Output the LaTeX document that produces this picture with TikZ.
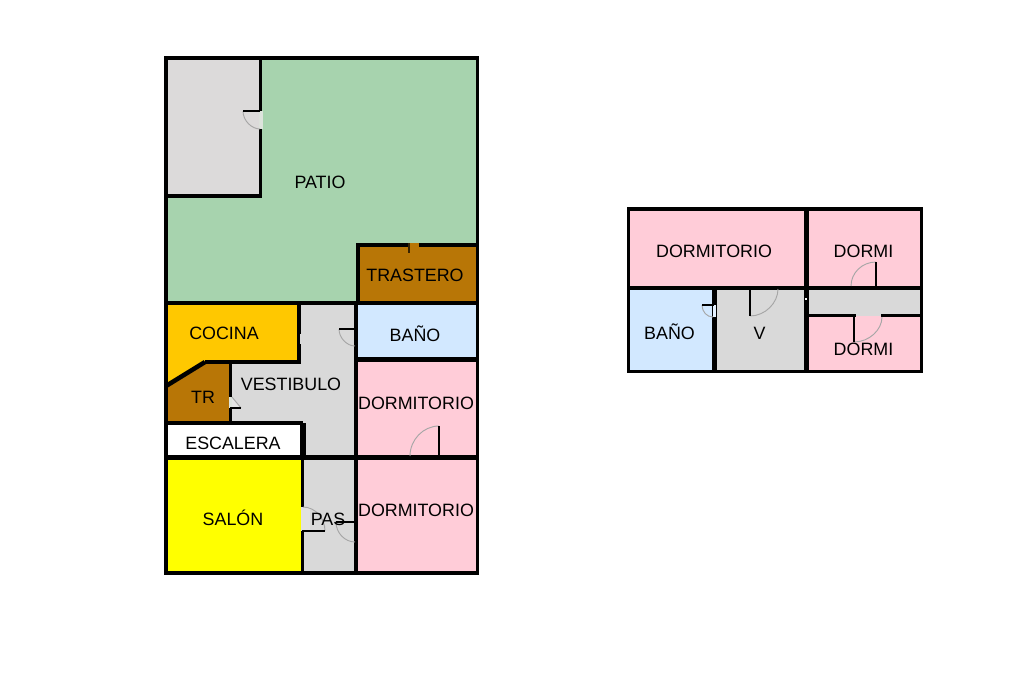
\documentclass[tikz,border=0pt]{standalone}
\usepackage{fontspec}
\setmainfont{Liberation Sans}
\definecolor{patio}{HTML}{A7D3AE}
\definecolor{greyroom}{HTML}{DCDADA}
\definecolor{hall}{HTML}{D9D9D9}
\definecolor{store}{HTML}{B87606}
\definecolor{kitchen}{HTML}{FFC800}
\definecolor{bath}{HTML}{D2E8FF}
\definecolor{bed}{HTML}{FFCCD8}
\definecolor{lounge}{HTML}{FFFF00}
\definecolor{gapgrey}{HTML}{DDE3DC}
\tikzset{
  wall/.style={draw=black,line width=2.5pt,line cap=rect,line join=miter},
  thinwall/.style={draw=black,line width=2.5pt,line cap=rect},
  leaf/.style={draw=black,line width=1pt},
  heavyleaf/.style={draw=black,line width=1.6pt},
  swing/.style={draw=black!35,line width=0.7pt},
  lbl/.style={anchor=base,inner sep=0pt,font=\fontsize{13.4pt}{15pt}\selectfont,text=black}
}
\begin{document}
\begin{tikzpicture}[x=0.75pt,y=-0.75pt]
\useasboundingbox (0,0) rectangle (1024,682);
\fill[white] (0,0) rectangle (1024,682);
% ---- ground floor fills
\fill[patio] (166,58) rectangle (477,303);
\fill[greyroom] (166,58) rectangle (260,196);
\fill[store] (358,245) rectangle (477,303);
\fill[kitchen] (166,303) rectangle (298,362);
\fill[kitchen] (166,362) -- (205,362) -- (166,387) -- cycle;
\fill[hall] (298,303) rectangle (356,458);
\fill[hall] (230,362) rectangle (303,423);
\fill[store] (166,387) -- (205,362) -- (230,362) -- (230,423) -- (166,423) -- cycle;
\fill[white] (166,423) rectangle (303,458);
\fill[bath] (356,303) rectangle (477,360);
\fill[bed] (356,360) rectangle (477,458);
\fill[bed] (356,458) rectangle (477,573);
\fill[lounge] (166,458) rectangle (302,573);
\fill[hall] (302,458) rectangle (356,573);
% ---- ground floor walls
\draw[wall] (166,58) rectangle (477.5,573);
\draw[thinwall] (260.5,58) -- (260.5,196) -- (166,196);
\draw[thinwall] (358,303) -- (358,245) -- (477,245);
\draw[line width=3.6pt] (166,303) -- (477,303);
\draw[line width=3pt] (298.5,303) -- (298.5,362) -- (205,362);
\draw[line width=3.4pt] (166,386) -- (205,362);
\draw[thinwall] (230.5,362) -- (230.5,423);
\draw[line width=3pt] (166,423) -- (303,423);
\draw[line width=4pt] (303,423) -- (303,458);
\draw[line width=3.2pt] (356,303) -- (356,573);
\draw[line width=3.4pt] (356,359.5) -- (477,359.5);
\draw[line width=3.4pt] (166,457.5) -- (477,457.5);
\draw[line width=2.6pt] (302.5,458) -- (302.5,573);
% ---- ground floor doors
\fill[gapgrey] (258.5,111) rectangle (263,129);
\fill[greyroom] (243,111) .. controls (243,121) and (252,129) .. (259,129) -- (259,111) -- cycle;
\draw[swing] (243,111) .. controls (243,121) and (252,129) .. (260,129);
\draw[leaf] (243,111) -- (260,111);
\fill[store] (409,243) rectangle (419,247);
\draw[draw=black!70!store,line width=0.8pt] (409,243) -- (409,253);
\fill[hall] (299.5,334) rectangle (301.5,344);
\draw[swing] (339,329) .. controls (339,338) and (347,346) .. (355,346);
\draw[leaf] (339,329) -- (355,329);
\fill[gapgrey] (229,397) rectangle (232.5,408);
\fill[hall!70!white] (232,397) -- (241,408) -- (232,408) -- cycle;
\draw[swing] (232,397) -- (241,408);
\draw[leaf] (230,408) -- (241,408);
\draw[swing] (439,426) .. controls (423,426) and (410,440) .. (410,456);
\draw[heavyleaf] (439,426) -- (439,456);
\fill[hall!80!white] (300.5,507) rectangle (310,531);
\draw[swing] (303,507) .. controls (315,507) and (325,518) .. (325,531);
\draw[leaf] (302,531) -- (325,531);
\draw[swing] (336,522) .. controls (336,533) and (345,542) .. (355,542);
\draw[leaf] (336,522) -- (355,522);
% ---- upper floor fills
\fill[bed] (629,209) rectangle (806,288);
\fill[bed] (806,209) rectangle (921,288);
\fill[bath] (629,288) rectangle (714,371);
\fill[hall] (714,288) rectangle (806,371);
\fill[hall] (806,288) rectangle (921,316);
\fill[bed] (806,316) rectangle (921,371);
% ---- upper floor walls
\draw[wall] (628.5,209) rectangle (921.5,371.5);
\draw[line width=3.4pt] (806.5,209) -- (806.5,371);
\draw[line width=2.8pt] (628,288) -- (921,288);
\draw[line width=3.4pt] (714.5,288) -- (714.5,371);
\draw[thinwall] (806,315.5) -- (854,315.5);
\draw[thinwall] (883,315.5) -- (921,315.5);
% ---- upper floor doors
\draw[swing] (750,316) .. controls (765,316) and (778,303) .. (778,289);
\draw[heavyleaf] (750,289) -- (750,316);
\fill[bath!60!white] (712.5,305) rectangle (715.5,317);
\draw[swing] (702,305) .. controls (702,312) and (707,317) .. (713,317);
\draw[leaf] (702,305) -- (714,305);
\draw[swing] (876,262) .. controls (862,262) and (851,273) .. (851,286);
\draw[leaf] (876,262) -- (876,286);
\draw[swing] (854,342) .. controls (869,342) and (882,330) .. (882,317);
\draw[heavyleaf] (854,314) -- (854,342);
\fill[white] (804.5,298) rectangle (806.5,300);
% ---- labels
\node[lbl] (patio) at (320,188.5) {PATIO};
\node[lbl] (trastero) at (415,281.5) {TRASTERO};
\node[lbl] (cocina) at (224,339.5) {COCINA};
\node[lbl] (bano1) at (415,341) {BAÑO};
\node[lbl] (vestibulo) at (291,390.5) {VESTIBULO};
\node[lbl] (tr) at (203,403.5) {TR};
\node[lbl] (dorm1) at (416,409.5) {DORMITORIO};
\node[lbl] (escalera) at (233,449.5) {ESCALERA};
\node[lbl] (salon) at (233,525) {SALÓN};
\node[lbl] (pas) at (328,525) {PAS};
\node[lbl] (dorm2) at (416,516.5) {DORMITORIO};
\node[lbl] (dorm3) at (714,257) {DORMITORIO};
\node[lbl] (dormi1) at (863.5,257) {DORMI};
\node[lbl] (bano2) at (669.5,339) {BAÑO};
\node[lbl] (v) at (759.5,339) {V};
\node[lbl] (dormi2) at (863.5,355) {DORMI};
\end{tikzpicture}
\end{document}
